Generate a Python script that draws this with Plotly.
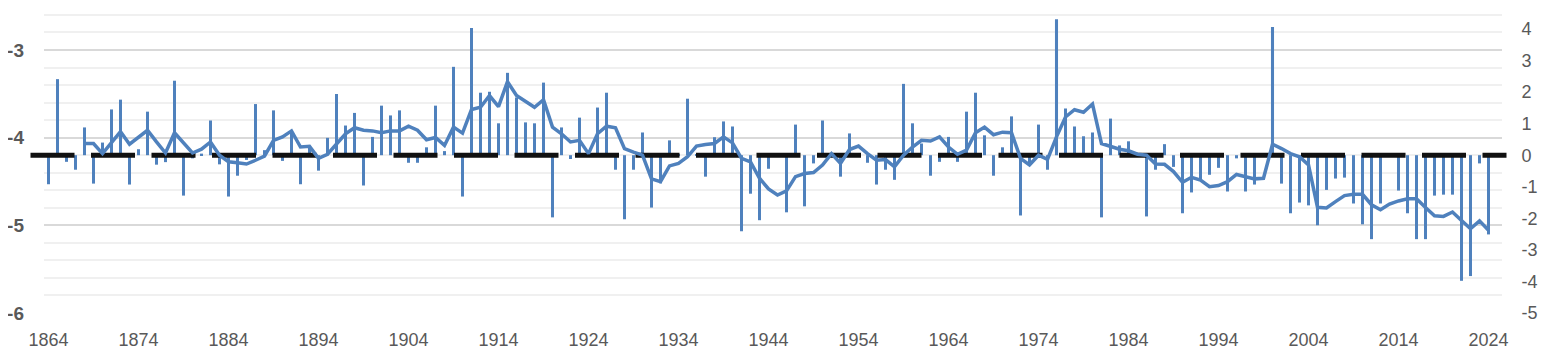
import plotly.graph_objects as go

YEARS = list(range(1864, 2025))

BAR_VALUES = [
    -0.92, 2.41, -0.21, -0.46, 0.88, -0.90, 0.40, 1.45, 1.76, -0.93,   # 1864-1873
    0.19, 1.38, -0.30, -0.22, 2.36, -1.28, -0.10, 0.05, 1.10, -0.29,   # 1874-1883
    -1.31, -0.65, -0.15, 1.62, 0.16, 1.42, -0.18, 0.79, -0.92, 0.26,   # 1884-1893
    -0.49, 0.55, 1.94, 0.94, 1.34, -0.96, 0.58, 1.57, 1.26, 1.42,      # 1894-1903
    -0.24, -0.24, 0.25, 1.57, 0.13, 2.80, -1.31, 4.03, 1.98, 2.01,     # 1904-1913
    1.01, 2.61, 1.83, 1.04, 1.01, 2.30, -1.97, 0.88, -0.12, 1.19,      # 1914-1923
    0.03, 1.51, 1.98, -0.46, -2.03, -0.46, 0.72, -1.66, -0.89, 0.47,   # 1924-1933
    0.03, 1.79, 0.03, -0.68, 0.57, 1.07, 0.91, -2.41, -1.22, -2.06,    # 1934-1943
    -0.43, -0.05, -1.81, 0.97, -1.62, -0.26, 1.10, 0.03, -0.68, 0.69,  # 1944-1953
    0.03, -0.24, -0.93, -0.46, -0.78, 2.26, 1.01, 0.37, -0.65, -0.21,  # 1954-1963
    0.58, -0.21, 1.38, 1.98, 0.63, -0.65, 0.25, 1.23, -1.91, -0.30,    # 1964-1973
    0.97, -0.46, 4.31, 1.48, 0.91, 0.60, 0.72, -1.97, 1.16, 0.31,      # 1974-1983
    0.44, 0.03, -1.94, -0.46, 0.35, -0.37, -1.84, -1.18, -0.79, -0.62, # 1984-1993
    -0.40, -1.15, -0.10, -1.15, -0.93, 0.03, 4.06, -0.90, -1.84, -1.50,# 1994-2003
    -1.59, -2.22, -1.10, -0.74, -0.71, -1.53, -2.19, -2.66, -1.53, 0.05,  # 2004-2013
    -1.12, -1.84, -2.66, -2.66, -1.28, -1.25, -1.25, -3.98, -3.83, -0.26, # 2014-2023
    -2.51,                                                             # 2024
]

LINE_VALUES = [
    None, None, None, None, 0.37, 0.37, 0.05, 0.40, 0.75, 0.35,         # 1864-1873
    0.57, 0.79, 0.42, 0.07, 0.71, 0.39, 0.07, 0.19, 0.42, 0.00,         # 1874-1883
    -0.21, -0.24, -0.28, -0.16, -0.03, 0.47, 0.58, 0.77, 0.26, 0.28,    # 1884-1893
    -0.10, 0.03, 0.37, 0.68, 0.87, 0.79, 0.77, 0.71, 0.77, 0.77,        # 1894-1903
    0.92, 0.79, 0.49, 0.56, 0.31, 0.89, 0.70, 1.45, 1.52, 1.89,         # 1904-1913
    1.54, 2.33, 1.89, 1.70, 1.52, 1.76, 0.89, 0.68, 0.42, 0.47,         # 1914-1923
    0.05, 0.68, 0.92, 0.87, 0.21, 0.10, 0.00, -0.75, -0.84, -0.34,      # 1924-1933
    -0.26, -0.05, 0.29, 0.34, 0.37, 0.58, 0.39, -0.10, -0.21, -0.73,    # 1934-1943
    -1.07, -1.26, -1.13, -0.68, -0.58, -0.55, -0.31, 0.05, -0.26, 0.18, # 1944-1953
    0.29, 0.05, -0.16, -0.14, -0.37, 0.00, 0.26, 0.47, 0.45, 0.58,      # 1954-1963
    0.26, 0.03, 0.16, 0.71, 0.89, 0.65, 0.73, 0.71, -0.10, -0.31,       # 1964-1973
    0.00, -0.13, 0.58, 1.21, 1.44, 1.36, 1.62, 0.37, 0.29, 0.19,        # 1974-1983
    0.14, 0.03, 0.00, -0.28, -0.29, -0.52, -0.86, -0.70, -0.79, -1.00,  # 1984-1993
    -0.96, -0.84, -0.61, -0.68, -0.75, -0.73, 0.35, 0.21, 0.05, -0.05,  # 1994-2003
    -0.31, -1.65, -1.67, -1.47, -1.28, -1.24, -1.24, -1.57, -1.73, -1.55,  # 2004-2013
    -1.45, -1.38, -1.38, -1.66, -1.92, -1.94, -1.80, -2.07, -2.33, -2.08,  # 2014-2023
    -2.38,                                                              # 2024
]

ZERO_YEARS = [1862, 2026]
ZERO_VALUES = [0, 0]

X_TICKS = list(range(1864, 2025, 10))
LEFT_TICKS = [-6, -5, -4, -3]
RIGHT_TICKS = [-5, -4, -3, -2, -1, 0, 1, 2, 3, 4]

BLUE = "rgb(79,129,189)"
GREY_TXT = "#595959"
FONT = "Liberation Sans, Arial, sans-serif"

# the page body adds an 8px offset; the figure is sized to fill the rest
OFF = 8
W, H = 1549 - OFF, 357 - OFF
A_L, A_R = 44 - OFF, 1502 - OFF      # grid subplot edges (px in figure)
B_L, B_R = 29 - OFF, 1507 - OFF      # data subplot edges (px in figure)
BOTTOM = 313 - OFF
ML, MR, MT, MB = B_L, W - B_R, 0, H - BOTTOM
plot_w = W - ML - MR
px_year = 9.0
dom_a = [(A_L - ML) / plot_w, (A_R - ML) / plot_w]
xa_range = [1863.5, 2025.5]
xb_range = [xa_range[0] - (A_L - B_L) / px_year, xa_range[1] + (B_R - A_R) / px_year]

plot_h = H - MT - MB
left_ppu = 263 / 3.0
right_ppu = left_ppu * 3.6 / 10
left_range = [-6, -6 + plot_h / left_ppu]
right_range = [-5, -5 + plot_h / right_ppu]

fig = go.Figure()

fig.add_trace(go.Scatter(x=[], y=[], xaxis="x", yaxis="y", showlegend=False))

fig.add_trace(go.Bar(
    x=YEARS, y=BAR_VALUES, width=0.34, marker=dict(color=BLUE, line=dict(width=0)),
    xaxis="x2", yaxis="y2", showlegend=False,
))
fig.add_trace(go.Scatter(
    x=ZERO_YEARS, y=ZERO_VALUES, mode="lines",
    line=dict(color="#111111", width=5, dash="44px,16.5px"),
    xaxis="x2", yaxis="y2", showlegend=False,
))
fig.add_trace(go.Scatter(
    x=YEARS, y=LINE_VALUES, mode="lines",
    line=dict(color=BLUE, width=3.5), connectgaps=False,
    xaxis="x2", yaxis="y2", showlegend=False,
))

fig.update_layout(
    width=W, height=H,
    margin=dict(l=ML, r=MR, t=MT, b=MB, pad=0, autoexpand=False),
    paper_bgcolor="white", plot_bgcolor="rgba(0,0,0,0)",
    font=dict(family=FONT, size=18, color=GREY_TXT),
    xaxis=dict(
        domain=dom_a, range=xa_range, tickmode="array", tickvals=X_TICKS,
        ticktext=[str(v) for v in X_TICKS], showgrid=False, zeroline=False,
        showline=False, ticks="", ticklabelstandoff=14, automargin=False,
        tickfont=dict(family=FONT, size=18, color=GREY_TXT),
    ),
    yaxis=dict(
        anchor="x", range=left_range, tickmode="array", tickvals=LEFT_TICKS,
        ticktext=[str(v) for v in LEFT_TICKS], automargin=False,
        showgrid=True, gridcolor="#d9d9d9", gridwidth=2, zeroline=False,
        showline=False, ticks="", ticklabelstandoff=19,
        tickfont=dict(family=FONT, size=19, color=GREY_TXT, weight="bold"),
        minor=dict(tick0=-6, dtick=0.2, showgrid=True, gridcolor="#f0f0f0", gridwidth=2),
    ),
    xaxis2=dict(domain=[0, 1], range=xb_range, visible=False, anchor="y2"),
    yaxis2=dict(
        domain=[0, 1], anchor="x2", side="right", range=right_range,
        tickmode="array", tickvals=RIGHT_TICKS, ticktext=[str(v) for v in RIGHT_TICKS],
        showgrid=False, zeroline=False, automargin=False,
        showline=False, ticks="outside", ticklen=10, tickcolor="rgba(0,0,0,0)",
        tickfont=dict(family=FONT, size=18, color=GREY_TXT),
    ),
)

fig.write_html("out.html")
